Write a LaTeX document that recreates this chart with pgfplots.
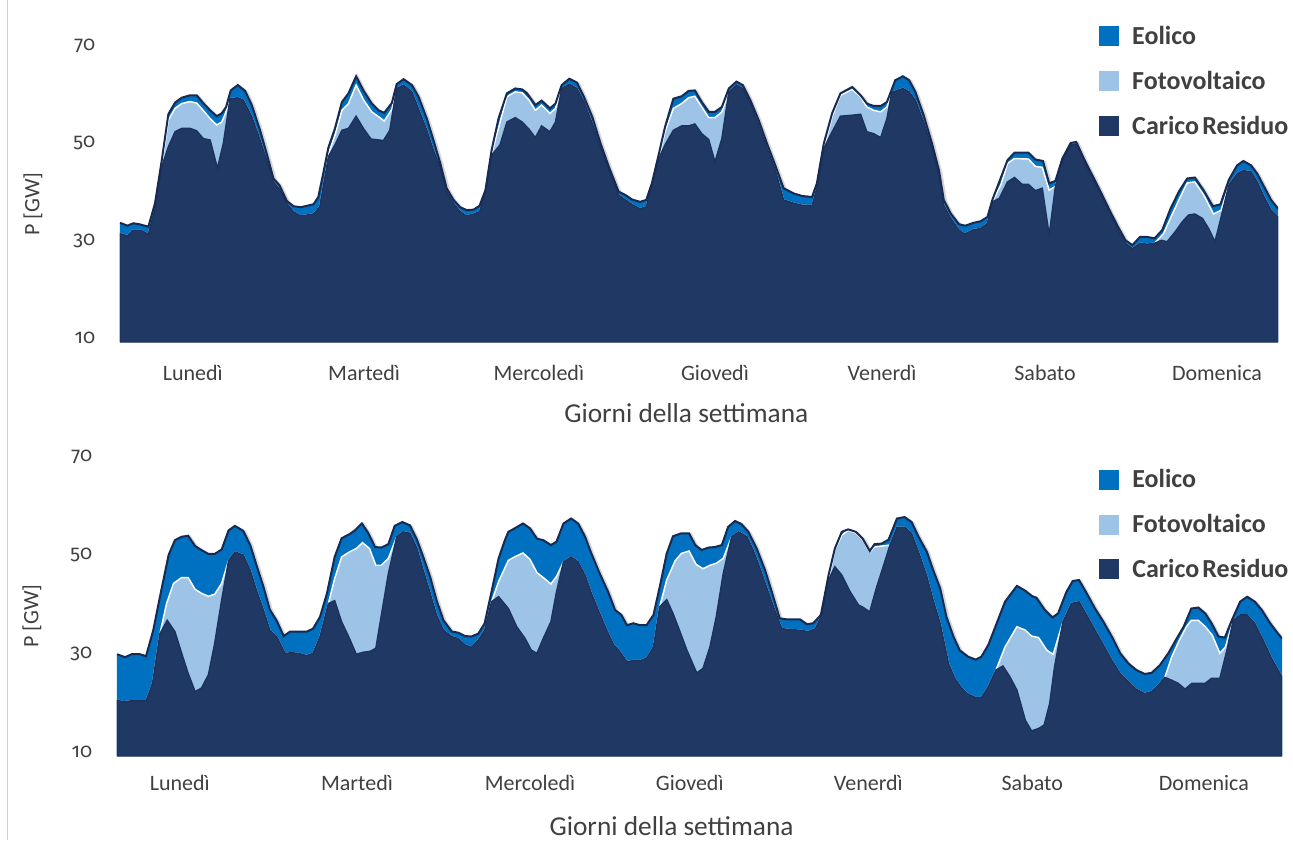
\documentclass[border=0pt]{standalone}
\usepackage{pgfplots}
\pgfplotsset{compat=1.18}
\usepackage{pgfplotstable}
\usepackage{fontspec}
\setmainfont{Carlito}
\newfontfamily\oldnum[Numbers=OldStyle]{Fira Sans}

\definecolor{eolico}{HTML}{0070C0}
\definecolor{fotov}{HTML}{9DC3E6}
\definecolor{carico}{HTML}{203864}
\definecolor{caricoline}{HTML}{1C3360}
\definecolor{bordo}{HTML}{172A52}
\definecolor{testo}{HTML}{404040}

% ---------- upper chart: hourly power over one week [GW], cumulative levels ----------
\pgfplotstableread{
h v
0 34.5
1.06 33.9
1.92 34.4
2.79 34.2
4.09 33.7
5.05 38.5
6.01 47.2
6.97 56.8
7.94 59.2
8.9 60.2
10.1 60.7
11.06 60.7
12.0 59.1
13.0 57.6
13.95 56.4
14.67 57.0
15.3 58.3
15.97 61.7
16.98 62.8
18.04 61.6
19.0 58.7
20.2 53.5
21.16 48.7
22.13 43.6
23.0 42.2
24.05 39.0
25.0 37.9
26.07 37.7
27.9 38.3
28.6 39.8
29.3 44.6
30.06 50.0
31.0 53.9
32.0 59.3
32.95 61.1
34.05 64.6
35.1 61.7
36.3 59.0
37.3 57.6
38.1 57.1
39.2 59.1
39.9 63.0
40.9 64.0
42.1 62.8
43.05 60.4
44.25 55.9
45.2 51.5
46.2 46.7
47.1 41.6
48.1 39.2
49.05 37.7
50.0 37.1
51.0 37.2
51.85 38.0
52.7 41.2
53.6 49.5
54.6 56.0
55.8 61.1
57.0 62.1
58.0 61.9
58.7 61.1
59.9 58.7
60.8 59.6
62.0 58.0
62.8 59.0
63.7 62.8
64.8 64.1
65.9 63.3
66.9 60.4
68.1 56.3
69.3 50.8
70.5 46.0
71.9 40.9
72.9 40.2
73.8 39.3
75.0 38.8
75.9 39.2
76.7 42.6
77.7 48.6
78.6 54.2
79.8 60.0
81.0 60.5
82.0 61.6
82.9 61.7
83.9 59.3
84.9 57.3
85.8 57.3
86.8 58.3
87.8 62.1
88.9 63.5
89.8 62.8
90.9 59.7
92.1 55.6
93.3 50.8
94.5 46.3
95.7 41.6
97.2 40.5
98.4 40.0
99.8 39.8
100.5 42.6
101.5 50.8
102.7 57.0
103.9 61.1
105.6 62.4
106.8 60.7
107.7 59.0
108.7 58.5
109.7 58.5
110.6 59.3
111.8 63.8
112.9 64.6
113.8 63.8
114.7 61.4
115.9 56.6
117.1 50.8
118.1 45.3
118.8 39.2
119.8 36.4
121.0 34.2
121.9 33.9
123.1 34.5
124.1 34.8
125.1 35.7
125.8 39.2
126.8 42.9
128.0 47.4
129.0 48.9
131.0 48.9
132.0 47.5
133.1 47.2
134.0 42.6
134.9 43.1
135.9 47.7
137.1 50.9
137.9 51.1
139.0 47.7
140.2 44.3
141.4 40.9
142.6 37.4
143.8 34.0
145.0 30.9
146.0 29.9
147.1 31.6
148.1 31.6
149.2 31.3
150.3 33.0
151.5 37.4
152.7 40.9
153.9 43.6
155.0 43.8
156.3 41.1
157.6 37.9
158.7 38.3
159.9 43.3
161.1 46.3
162.0 47.2
163.1 46.3
164.0 44.6
165.0 41.9
166.0 39.2
167.0 37.4
}\topTot

\pgfplotstableread{
h v
0 32.3
1.06 31.8
1.92 33.0
2.89 33.0
4.09 32.2
5.05 37.4
6.01 46.0
6.97 55.6
7.94 58.0
8.9 59.0
10.1 59.4
11.06 59.1
12.0 57.6
13.0 55.9
13.95 54.6
14.67 55.2
15.3 57.3
15.87 60.0
16.98 60.2
17.8 59.7
19.0 56.3
20.2 51.5
21.16 47.4
22.13 42.9
23.1 41.2
24.05 38.5
25.0 36.8
26.07 35.9
27.9 36.3
28.8 37.8
29.6 44.3
30.06 48.7
31.0 52.5
32.0 57.6
32.95 59.0
34.05 62.8
35.1 59.8
36.3 57.3
37.3 56.3
38.1 55.4
39.2 57.8
39.9 62.1
40.9 62.8
42.1 61.4
43.3 57.0
44.25 53.5
45.2 49.4
46.2 46.0
47.1 40.9
48.1 38.5
49.05 36.8
50.0 35.9
51.0 36.3
51.85 36.8
52.7 40.9
53.6 48.7
54.7 54.6
55.8 60.4
57.0 61.4
58.0 61.2
59.0 59.7
59.9 57.6
60.8 58.7
62.0 57.0
62.8 58.0
63.7 62.1
64.8 63.0
65.9 62.1
66.9 59.4
68.1 54.9
69.3 50.1
70.5 45.3
71.9 40.2
72.9 39.2
73.8 38.3
75.0 37.4
75.9 37.8
76.7 42.2
77.7 47.7
78.6 53.2
79.8 58.0
81.0 59.0
82.0 60.2
82.9 60.5
83.9 58.3
84.9 56.1
85.8 56.1
86.8 57.3
87.8 61.4
88.9 62.8
89.8 62.1
90.9 59.0
92.1 54.6
93.3 49.8
94.5 45.3
95.7 39.2
97.2 38.5
98.4 38.1
99.8 38.0
100.5 41.6
101.5 49.8
102.7 56.3
103.9 60.7
105.6 61.9
106.8 60.4
107.7 58.3
108.7 57.6
109.7 57.3
110.6 58.3
111.3 61.3
112.9 62.1
113.8 61.4
114.7 59.7
115.9 55.2
117.1 49.8
118.1 44.3
118.8 38.1
119.8 35.4
121.0 33.0
121.8 32.2
123.1 33.1
124.1 33.3
125.1 34.4
125.8 38.8
127.0 42.2
128.0 46.7
129.0 47.7
131.0 47.6
132.0 46.1
133.0 45.9
134.0 41.2
134.9 42.0
135.9 47.4
137.1 50.5
137.9 50.7
139.0 47.4
140.2 43.9
141.4 40.5
142.6 37.1
143.8 33.3
145.0 30.3
146.0 29.2
147.1 30.3
148.1 30.1
149.2 30.3
150.5 32.3
151.7 36.1
152.9 39.8
153.9 42.7
155.0 42.9
156.3 40.2
157.7 36.3
158.8 37.1
159.9 42.2
161.1 44.6
162.0 45.2
163.1 45.0
164.0 42.9
165.0 39.8
166.0 37.1
167.0 35.7
}\topFv

\pgfplotstableread{
h v
0 32.3
1.06 31.8
1.92 33.0
2.89 33.0
4.09 32.2
5.05 37.4
6.01 46.0
6.97 50.1
7.94 53.2
8.9 53.9
10.1 53.9
11.06 53.4
12.0 51.8
13.0 51.5
14.05 45.7
14.9 50.8
15.87 60.0
16.98 60.2
17.8 59.7
19.0 56.3
20.2 51.5
21.16 47.4
22.13 42.9
23.1 41.2
24.05 38.5
25.0 36.8
26.07 35.9
27.9 36.3
28.8 37.8
29.6 44.3
30.06 48.1
31.0 50.5
32.0 53.5
32.95 53.9
34.05 56.4
35.1 53.9
36.2 51.7
38.0 51.4
38.9 53.5
39.9 62.1
40.9 62.8
42.1 61.4
43.3 57.0
44.25 53.5
45.2 49.4
46.2 46.0
47.1 40.9
48.1 38.5
49.05 36.8
50.0 35.9
51.0 36.3
51.85 36.8
52.7 40.9
53.6 48.4
54.8 50.5
55.8 55.2
57.0 56.1
58.0 55.2
59.0 53.7
59.9 52.0
60.8 54.4
62.0 53.2
62.8 55.2
63.7 62.1
64.8 63.0
65.9 62.1
66.9 59.4
68.1 54.9
69.3 50.1
70.5 45.3
71.9 40.2
72.9 39.2
73.8 38.3
75.0 37.4
75.9 37.8
76.7 42.2
77.7 47.7
78.6 50.5
79.8 53.5
81.0 54.4
82.0 54.4
82.9 54.8
83.9 52.8
84.9 51.6
85.8 47.0
86.8 51.8
87.8 61.4
88.9 62.8
89.8 62.1
90.9 59.0
92.1 54.6
93.3 49.8
94.5 45.3
95.7 39.2
97.2 38.5
98.4 38.1
99.8 38.0
100.5 41.6
101.5 49.8
102.7 53.2
103.9 56.4
105.6 56.6
106.8 56.8
107.7 53.2
108.7 52.8
109.7 52.0
110.6 55.9
111.3 61.3
112.9 62.1
113.8 61.4
114.7 59.7
115.9 55.2
117.1 49.8
118.1 44.3
118.8 38.1
119.8 35.4
121.0 33.0
121.8 32.2
123.1 33.1
124.1 33.3
125.1 34.4
125.8 38.8
126.8 39.5
128.0 42.9
129.0 43.8
130.1 42.4
131.0 42.4
132.0 41.1
133.0 41.6
134.0 32.0
134.9 42.0
135.9 47.4
137.1 50.5
137.9 50.7
139.0 47.4
140.2 43.9
141.4 40.5
142.6 37.1
143.8 33.3
145.0 30.3
146.0 29.2
147.1 30.3
148.1 30.1
149.2 30.3
150.2 30.9
151.0 30.6
152.2 32.7
153.2 34.7
154.1 36.1
155.0 36.3
156.1 35.4
157.0 33.3
157.9 30.6
158.7 35.1
159.9 42.2
161.1 44.6
162.0 45.2
163.1 45.0
164.0 42.9
165.0 39.8
166.0 37.1
167.0 35.7
}\topCr

% ---------- lower chart ----------
\pgfplotstableread{
h v
0 30.7
1.15 30.1
2.1 30.7
3.3 30.7
4.16 30.3
5.2 35.6
6.16 42.4
7.4 50.9
8.3 53.9
9.27 54.6
10.2 54.8
11.2 52.7
12.1 51.9
13.1 51.1
14.0 51.1
15.0 52.0
16.0 55.9
16.9 56.8
18.1 55.8
19.1 52.9
20.0 48.8
21.0 44.4
21.9 39.8
22.9 37.5
23.9 34.4
24.8 35.3
26.0 35.3
27.2 35.3
28.1 35.9
29.1 38.3
30.1 43.1
31.2 50.5
32.2 54.3
33.3 55.1
34.1 55.9
35.1 57.3
36.0 55.4
37.0 52.5
37.9 52.4
38.9 53.1
39.8 56.8
40.9 57.6
42.0 56.9
43.0 54.0
43.9 50.5
44.9 46.4
45.8 41.7
46.8 37.6
48.0 35.3
48.9 35.1
49.9 34.4
50.8 34.3
51.8 34.9
52.7 37.0
53.7 43.5
54.7 50.2
55.6 53.9
56.1 55.6
57.0 56.3
58.2 57.3
59.2 56.3
60.2 54.2
61.1 53.9
62.2 52.9
63.0 53.6
64.0 57.3
65.1 58.3
66.1 57.3
67.1 54.6
68.0 51.2
69.2 47.1
70.4 43.4
71.4 39.7
72.3 38.7
73.1 36.6
74.0 37.0
75.0 36.6
75.9 36.6
76.9 38.7
77.8 44.4
78.8 51.2
79.7 54.7
80.9 55.3
82.0 55.3
82.9 52.9
83.8 51.9
84.8 52.4
85.7 52.5
86.7 52.9
87.6 56.6
88.6 57.8
89.5 57.2
90.5 55.6
91.7 52.2
92.9 47.8
93.8 43.7
95.0 38.0
96.0 37.8
97.9 37.8
98.9 36.8
99.8 37.0
100.9 38.7
102.0 46.8
102.9 52.2
103.9 55.6
104.8 56.1
105.9 55.6
106.9 54.2
107.9 51.7
108.6 53.1
109.6 53.2
110.6 54.0
111.8 58.3
112.9 58.6
113.9 57.6
114.9 54.6
116.1 51.5
117.0 47.8
118.0 44.1
118.9 38.3
119.9 34.3
120.8 31.5
122.0 30.2
123.1 29.6
123.9 30.2
124.9 32.6
126.1 37.0
127.3 41.4
129.0 44.6
130.1 43.7
131.2 42.5
131.8 42.2
133.0 39.7
134.1 38.2
134.9 39.0
136.1 43.4
137.0 45.6
137.9 45.8
139.0 43.1
140.2 40.0
141.4 37.3
142.6 34.3
143.8 30.9
145.0 28.8
146.1 27.5
147.3 26.7
148.3 26.9
149.5 28.5
150.7 30.9
151.9 33.9
152.9 36.3
154.0 40.0
155.0 40.2
156.0 39.0
156.9 37.0
157.9 34.3
158.8 34.1
159.8 37.6
161.0 41.4
162.0 42.4
163.1 41.4
164.1 39.7
165.3 37.0
166.2 35.3
167.0 33.9
}\botTot

\pgfplotstableread{
h v
0 21.4
0.9 21.0
1.86 21.2
4.16 21.2
5.1 24.8
6.16 34.9
7.1 41.0
8.1 45.1
9.27 46.3
10.2 46.3
11.2 43.9
12.1 43.1
13.1 42.5
14.0 42.9
15.0 45.1
16.0 49.8
16.9 51.5
18.1 50.9
19.1 47.8
20.0 43.7
21.0 39.7
21.9 35.6
22.9 34.3
24.1 30.9
25.0 31.0
26.0 30.9
27.2 30.4
28.1 30.9
29.1 34.3
30.3 41.0
31.2 46.1
32.2 50.5
33.3 51.5
34.3 52.2
35.2 53.4
36.2 52.2
37.1 48.8
37.9 48.8
38.9 50.2
40.1 54.6
41.0 55.6
42.0 55.3
43.0 52.2
43.9 47.8
44.9 43.1
45.8 38.7
46.8 35.6
48.0 34.3
48.9 33.9
49.9 32.6
50.8 32.1
51.8 33.6
52.7 35.6
53.7 41.4
54.7 45.5
56.1 49.8
57.0 50.5
58.2 51.3
59.2 50.0
60.2 47.3
61.1 46.3
62.2 45.0
63.0 46.5
64.0 49.5
65.1 50.5
66.1 49.5
67.1 46.8
68.0 43.1
69.2 39.0
70.2 35.6
71.2 32.6
72.1 31.2
73.1 29.2
74.0 29.4
75.0 29.4
75.9 29.9
76.9 32.2
77.8 40.4
78.8 45.8
80.0 49.7
80.9 51.2
82.0 51.7
83.0 49.0
84.0 48.1
85.0 48.8
85.9 49.2
86.9 50.2
88.1 54.6
89.1 55.6
90.3 54.6
91.2 51.9
92.2 48.1
93.1 44.4
94.1 40.4
95.3 35.9
96.5 35.7
97.9 35.6
99.1 35.3
100.1 35.9
100.9 38.3
102.0 45.8
102.9 51.9
103.9 54.9
104.8 55.9
105.9 55.4
106.9 54.0
107.9 51.5
108.6 52.5
109.6 52.7
110.8 52.9
111.8 56.5
112.9 56.5
113.9 55.3
114.9 51.5
116.1 46.5
117.0 41.7
118.0 37.0
119.2 28.8
120.1 25.8
121.1 23.8
122.0 22.6
123.1 21.9
123.9 21.9
124.9 24.1
126.0 27.5
127.3 32.2
129.0 36.3
130.2 35.6
131.1 34.4
132.1 34.1
133.3 31.5
134.2 30.7
135.6 37.3
136.8 41.0
137.9 41.4
139.0 38.7
140.2 35.6
141.4 32.6
142.6 29.5
143.8 26.8
145.0 25.1
146.1 23.6
147.3 22.7
148.3 23.1
149.5 24.8
150.2 26.0
151.2 30.2
152.3 33.6
153.3 36.3
154.0 37.6
155.0 37.6
156.0 36.3
157.0 34.6
158.1 30.9
158.9 32.2
160.0 37.6
161.0 38.7
162.0 38.7
163.1 37.0
164.3 33.6
165.5 29.9
167.0 26.1
}\botFv

\pgfplotstableread{
h v
0 21.4
0.9 21.0
1.86 21.2
4.16 21.2
5.1 24.8
6.16 34.9
7.2 37.6
8.3 35.3
9.27 30.9
10.2 26.8
11.2 23.1
12.1 23.8
13.1 26.5
14.0 32.9
15.0 41.7
16.0 49.8
16.9 51.5
18.1 50.9
19.1 47.8
20.0 43.7
21.0 39.7
21.9 35.6
22.9 34.3
24.1 30.9
25.0 31.0
26.0 30.9
27.2 30.4
28.1 30.9
29.1 34.3
30.3 41.0
31.2 41.6
32.2 37.3
33.2 34.3
34.3 30.7
35.3 31.1
36.3 31.3
37.1 31.9
37.9 38.7
38.9 47.1
40.1 54.6
41.0 55.6
42.0 55.3
43.0 52.2
43.9 47.8
44.9 43.1
45.8 38.7
46.8 35.6
48.0 34.3
48.9 33.9
49.9 32.6
50.8 32.1
51.8 33.6
52.7 35.6
53.7 41.4
54.7 42.4
56.1 40.0
57.3 36.3
58.5 33.9
59.4 31.5
60.2 30.9
61.1 33.9
62.2 37.3
63.0 43.4
64.0 49.5
65.1 50.5
66.1 49.5
67.1 46.8
68.0 43.1
69.2 39.0
70.2 35.6
71.2 32.6
72.1 31.2
73.1 29.2
74.0 29.4
75.0 29.4
75.9 29.9
76.9 32.2
77.8 40.4
78.8 41.8
79.7 39.0
80.7 35.3
81.7 31.5
83.1 26.9
84.0 27.8
85.0 32.2
85.9 38.3
86.9 47.1
88.1 54.6
89.1 55.6
90.3 54.6
91.2 51.9
92.2 48.1
93.1 44.4
94.1 40.4
95.3 35.9
96.5 35.7
97.9 35.6
99.1 35.3
100.1 35.9
100.9 38.3
102.0 45.8
102.9 48.5
103.9 46.8
105.1 43.4
106.3 40.7
107.0 40.2
107.9 39.3
108.9 44.4
109.9 48.8
110.8 52.9
111.8 56.5
112.9 56.5
113.9 55.3
114.9 51.5
116.1 46.5
117.0 41.7
118.0 37.0
119.2 28.8
120.1 25.8
121.1 23.8
122.0 22.6
123.1 21.9
123.9 21.9
124.9 24.1
126.0 27.5
127.0 28.3
128.0 26.1
129.0 23.4
130.2 17.3
131.1 15.1
132.1 15.6
132.9 16.3
133.7 20.7
134.4 28.2
135.6 37.3
136.8 41.0
137.9 41.4
139.0 38.7
140.2 35.6
141.4 32.6
142.6 29.5
143.8 26.8
145.0 25.1
146.1 23.6
147.3 22.7
148.3 23.1
149.5 24.8
150.2 26.0
151.2 25.4
152.1 24.8
153.1 23.6
154.1 24.8
156.0 24.8
156.9 25.8
158.1 25.8
159.1 31.5
160.0 37.6
161.0 38.7
162.0 38.7
163.1 37.0
164.3 33.6
165.5 29.9
167.0 26.1
}\botCr

\pgfplotsset{
  settimana/.style={
    scale only axis,
    xmin=0, xmax=167, ymin=10, ymax=70,
    ytick={10,30,50,70},
    axis line style={draw=none},
    major tick length=0pt,
    tick style={draw=none},
    clip=true,
    /pgf/number format/assume math mode=true,
    yticklabel style={font=\oldnum\fontsize{15}{15}\selectfont, text=testo,
      anchor=east, xshift=-15pt, yshift=3pt},
    xticklabel style={font=\fontsize{16.5}{16.5}\selectfont, text=testo, anchor=center},
    xticklabels={Lunedì,Martedì,Mercoledì,Giovedì,Venerdì,Sabato,Domenica},
    xlabel={Giorni della settimana},
    ylabel={P [GW]},
    xlabel style={font=\fontsize{20.5}{20.5}\selectfont, text=testo, anchor=center},
    ylabel style={font=\fontsize{16.5}{16.5}\selectfont, text=testo, anchor=center},
    legend cell align=left,
    legend image code/.code={\fill[##1,draw=none] (0pt,-7.5pt) rectangle (15pt,7.5pt);},
    legend style={draw=none, fill=none, inner sep=0pt, row sep=18.5pt,
      font=\bfseries\fontsize{19.5}{19.5}\selectfont, text=testo,
      nodes={inner sep=0pt},
      /tikz/every odd column/.append style={column sep=9.75pt}},
  },
  ombra/.style={forget plot, draw=black, opacity=0.16, line width=2.6pt, xshift=1.2pt, yshift=-1.2pt},
  livellotot/.style={fill=eolico, draw=none},
  livellofv/.style={fill=fotov, draw=white, line width=1.1pt},
  livellocr/.style={fill=carico, draw=caricoline, line width=1.1pt},
  bordotot/.style={forget plot, draw=bordo, line width=1.5pt},
}

\begin{document}
\begin{tikzpicture}
\useasboundingbox (0,0) rectangle (969.75pt,-630pt);
\draw[line width=0.8pt, color=black!18] (5.6pt,0pt) -- (5.6pt,-630pt);

% upper chart
\begin{axis}[settimana,
  at={(90pt,-256.5pt)}, anchor=south west,
  width=868.5pt, height=219pt,
  xtick={10.5,35.2,60.4,85.8,109.9,133.4,158.2},
  xticklabel style={yshift=-23pt},
  xlabel style={at={(axis description cs:0.489,-0.243)}},
  ylabel style={at={(axis description cs:-0.0751,0.473)}},
  legend style={at={(axis description cs:0.8454,1.082)}, anchor=north west},
]
\addplot[ombra] table[x=h,y=v] {\topTot};
\addplot[livellotot] table[x=h,y=v] {\topTot} \closedcycle;
\addlegendentry{Eolico}
\addplot[livellofv] table[x=h,y=v] {\topFv} \closedcycle;
\addlegendentry{Fotovoltaico}
\addplot[livellocr] table[x=h,y=v] {\topCr} \closedcycle;
\addlegendentry{Carico\hspace{0.12em}Residuo}
\addplot[bordotot] table[x=h,y=v] {\topTot};
\end{axis}

% lower chart
\begin{axis}[settimana,
  at={(87.75pt,-567pt)}, anchor=south west,
  width=873.75pt, height=221.25pt,
  xtick={9.0,34.4,59.2,82.1,107.7,131.2,155.8},
  xticklabel style={yshift=-20.5pt},
  xlabel style={at={(axis description cs:0.476,-0.237)}},
  ylabel style={at={(axis description cs:-0.073,0.475)}},
  legend style={at={(axis description cs:0.843,0.972)}, anchor=north west},
]
\addplot[ombra] table[x=h,y=v] {\botTot};
\addplot[livellotot] table[x=h,y=v] {\botTot} \closedcycle;
\addlegendentry{Eolico}
\addplot[livellofv] table[x=h,y=v] {\botFv} \closedcycle;
\addlegendentry{Fotovoltaico}
\addplot[livellocr] table[x=h,y=v] {\botCr} \closedcycle;
\addlegendentry{Carico\hspace{0.12em}Residuo}
\addplot[bordotot] table[x=h,y=v] {\botTot};
\end{axis}
\end{tikzpicture}
\end{document}
